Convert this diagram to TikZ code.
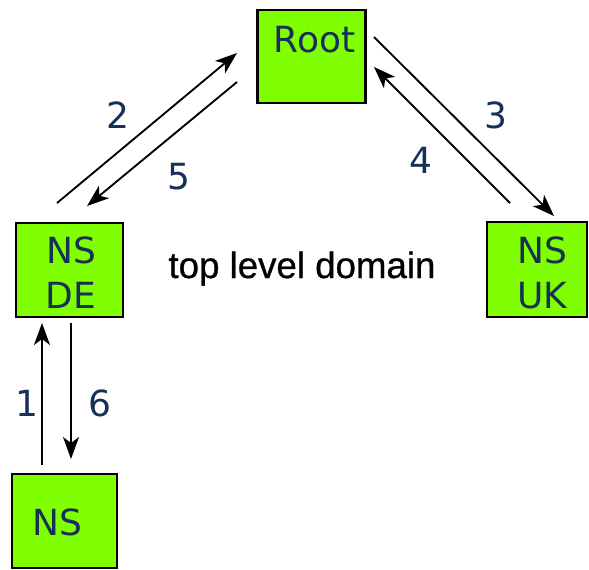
\documentclass[tikz,border=0pt]{standalone}
\usepackage{fontspec}
\setmainfont{DejaVu Sans}
\newfontfamily\labelfont[FakeBold=0.8]{Liberation Sans}
\usetikzlibrary{arrows.meta}
\definecolor{boxgreen}{RGB}{128,255,0}
\definecolor{navy}{RGB}{23,48,88}
\begin{document}
\begin{tikzpicture}[x=0.75pt,y=-0.75pt,
  server/.style={draw=black,line width=1.8pt,fill=boxgreen,inner sep=0pt},
  boxtext/.style={text=navy,font=\fontsize{27}{34}\selectfont,align=center,inner sep=0pt},
  numtext/.style={text=navy,font=\fontsize{27}{34}\selectfont,inner sep=0pt},
  query/.style={line width=1.4pt,-{Stealth[length=16.5pt,width=12pt,inset=4.5pt]}}]
\useasboundingbox (0,0) rectangle (589,569);
% name servers
\node[server,minimum width=108*0.75pt,minimum height=93*0.75pt] (root) at (311.5,56.5) {};
\node[server,minimum width=107*0.75pt,minimum height=94*0.75pt] (nsde) at (69.5,270) {};
\node[server,minimum width=100*0.75pt,minimum height=95*0.75pt] (nsuk) at (537,269.5) {};
\node[server,minimum width=105*0.75pt,minimum height=94*0.75pt] (ns) at (64.5,521) {};
% their labels
\node[boxtext,anchor=base] (roottxt) at (314.5,52) {Root};
\node[boxtext,anchor=base] (nsdetxt) at (71,263) {NS};
\node[boxtext,anchor=base] (nsdetxt2) at (71,308) {DE};
\node[boxtext,anchor=base] (nsuktxt) at (542,263) {NS};
\node[boxtext,anchor=base] (nsuktxt2) at (542,308) {UK};
\node[boxtext,anchor=base] (nstxt) at (57.5,535) {NS};
\node[font=\labelfont\fontsize{27.5}{33}\selectfont,anchor=base,inner sep=0pt] (tld) at (302,278) {top level domain};
% connector end points
\coordinate (a2s) at (57,203);  \coordinate (a2e) at (237,53);
\coordinate (a5s) at (237,82);  \coordinate (a5e) at (87,206);
\coordinate (a3s) at (374,37);  \coordinate (a3e) at (554,216);
\coordinate (a4s) at (510,203); \coordinate (a4e) at (374,67);
\coordinate (a1s) at (42,465);  \coordinate (a1e) at (42,323);
\coordinate (a6s) at (71,323);  \coordinate (a6e) at (71,459);
% queries and answers
\draw[query] (a1s) -- (a1e);
\draw[query] (a2s) -- (a2e);
\draw[query] (a3s) -- (a3e);
\draw[query] (a4s) -- (a4e);
\draw[query] (a5s) -- (a5e);
\draw[query] (a6s) -- (a6e);
% step numbers
\node[numtext] (n1) at (27,403) {1};
\node[numtext] (n2) at (118,115) {2};
\node[numtext] (n3) at (496,115) {3};
\node[numtext] (n4) at (421,160) {4};
\node[numtext] (n5) at (179,177) {5};
\node[numtext] (n6) at (100,403) {6};
\end{tikzpicture}
\end{document}
